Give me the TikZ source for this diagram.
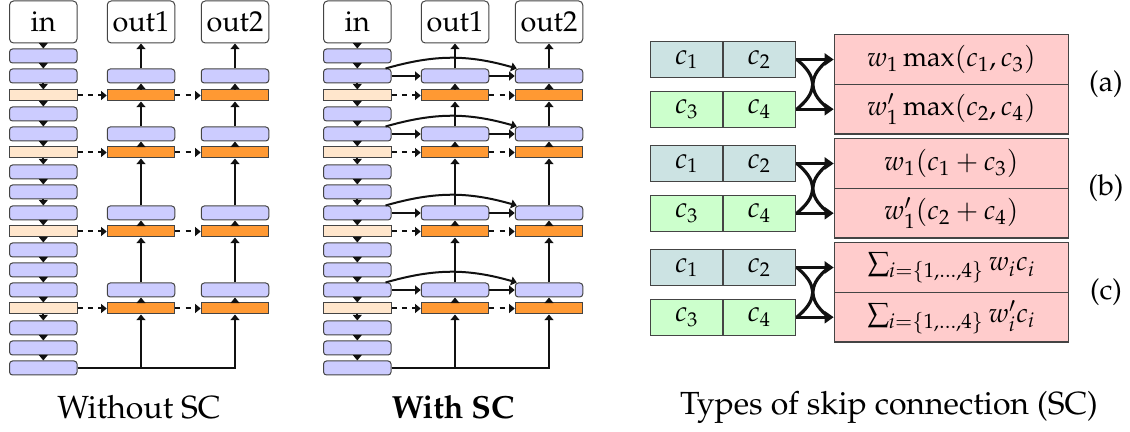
\documentclass[tikz,border=0pt]{standalone}
\usepackage{amsmath,amssymb}
\usepackage[T1]{fontenc}
\usepackage{mathpazo}
\usepackage{tikz}
\usetikzlibrary{arrows.meta,calc,positioning}
\definecolor{ink}{HTML}{111111}
\definecolor{edgegray}{HTML}{444444}
\definecolor{layerblue}{HTML}{CCCCFF}
\definecolor{layerpeach}{HTML}{FFE6CC}
\definecolor{headorange}{HTML}{FF9933}
\definecolor{chanteal}{HTML}{CCE3E3}
\definecolor{changreen}{HTML}{CCFFCC}
\definecolor{mixpink}{HTML}{FFCCCC}
\newcommand{\capfont}{\fontsize{16}{19}\selectfont}
\newcommand{\mixfont}{\fontsize{13.6}{16}\selectfont}
\tikzset{
  uparr/.style={-{Triangle[length=2.8pt,width=4.4pt]},line width=1pt,color=ink},
  dasharr/.style={uparr,dash pattern=on 2.6pt off 2.6pt},
  mixarr/.style={-{Triangle[length=4.5pt,width=6pt]},line width=1.6pt,color=ink},
  mixcross/.style={line width=1.6pt,color=ink},
  iobox/.style={draw=edgegray,fill=white,line width=0.5pt,rounded corners=2pt,minimum width=33.75pt,minimum height=21pt,inner sep=0pt,font=\Large},
  bluelayer/.style={draw=edgegray,fill=layerblue,line width=0.5pt,rounded corners=1.5pt,minimum width=33.75pt,minimum height=7pt,inner sep=0pt},
  peachlayer/.style={draw=edgegray,fill=layerpeach,line width=0.5pt,minimum width=33.75pt,minimum height=5.5pt,inner sep=0pt},
  orangelayer/.style={draw=edgegray,fill=headorange,line width=0.5pt,minimum width=33.75pt,minimum height=5.5pt,inner sep=0pt},
  chanbox/.style={draw=edgegray,line width=0.6pt,minimum width=36pt,minimum height=18pt,inner sep=0pt,font=\Large},
  mixbox/.style={draw=edgegray,fill=mixpink,line width=0.6pt,minimum width=117pt,minimum height=24.85pt,inner sep=0pt,font=\mixfont}
}

\begin{document}
\begin{tikzpicture}[x=0.5pt,y=-0.5pt]
  \useasboundingbox (0,0) rectangle (1130,432);
  % two network panels
  \foreach \p/\ox in {wo/0,wi/314} {
    \node[iobox] (\p-in) at (43.3+\ox,22) {in};
    \node[iobox] (\p-out1) at (141+\ox,22) {out1};
    \node[iobox] (\p-out2) at (235+\ox,22) {out2};
    \foreach \i/\y/\sty in {1/56/bluelayer,2/76/bluelayer,3/95.5/peachlayer,4/114/bluelayer,5/134/bluelayer,
        6/152.5/peachlayer,7/172/bluelayer,8/192/bluelayer,9/213/bluelayer,10/231.5/peachlayer,
        11/250/bluelayer,12/270/bluelayer,13/290/bluelayer,14/308.5/peachlayer,15/328/bluelayer,
        16/348/bluelayer,17/368/bluelayer}
      \node[\sty] (\p-e\i) at (43.3+\ox,\y) {};
    \draw[uparr] (\p-in) -- (\p-e1);
    \foreach \i in {1,...,16} {
      \pgfmathtruncatemacro{\j}{\i+1}
      \draw[uparr] (\p-e\i) -- (\p-e\j);
    }
    \foreach \k/\yb/\yo/\lt in {1/76/95.5/3,2/134/152.5/6,3/213/231.5/10,4/290/308.5/14} {
      \node[bluelayer] (\p-m-b\k) at (141+\ox,\yb) {};
      \node[orangelayer] (\p-m-o\k) at (141+\ox,\yo) {};
      \node[bluelayer] (\p-r-b\k) at (235+\ox,\yb) {};
      \node[orangelayer] (\p-r-o\k) at (235+\ox,\yo) {};
      \draw[uparr] (\p-m-o\k) -- (\p-m-b\k);
      \draw[uparr] (\p-r-o\k) -- (\p-r-b\k);
      \draw[dasharr] (\p-e\lt) -- (\p-m-o\k);
      \draw[dasharr] (\p-m-o\k) -- (\p-r-o\k);
    }
    \foreach \k in {2,3,4} {
      \pgfmathtruncatemacro{\h}{\k-1}
      \draw[uparr] (\p-m-b\k) -- (\p-m-o\h);
      \draw[uparr] (\p-r-b\k) -- (\p-r-o\h);
    }
    \draw[uparr] (\p-m-b1) -- (\p-out1);
    \draw[uparr] (\p-r-b1) -- (\p-out2);
    \draw[uparr] (\p-e17.east) -| (\p-m-o4.south);
    \draw[uparr] (\p-e17.east) -| (\p-r-o4.south);
  }
  % skip connections
  \foreach \k/\src in {1/2,2/5,3/9,4/13} {
    \draw[uparr] (wi-e\src) -- (wi-m-b\k);
    \draw[uparr] (wi-m-b\k) -- (wi-r-b\k);
    \draw[uparr] ([xshift=-3pt]wi-e\src.north east) to[out=16,in=164] ([xshift=1pt]wi-r-b\k.north west);
  }
  \node[font=\capfont] (capwo) at (139,407) {Without SC};
  \node[font=\capfont\bfseries] (capwi) at (453,407) {With SC};

  % types of skip connection
  \foreach \g/\ya in {a/59.5,b/163.5,c/267.5} {
    \pgfmathsetmacro{\yc}{\ya+49.7}
    \node[chanbox,fill=chanteal] (\g-c1) at (686.7,\ya) {$c_1$};
    \node[chanbox,fill=chanteal] (\g-c2) at (759.2,\ya) {$c_2$};
    \node[chanbox,fill=changreen] (\g-c3) at (686.7,\yc) {$c_3$};
    \node[chanbox,fill=changreen] (\g-c4) at (759.2,\yc) {$c_4$};
    \node[mixbox] (\g-top) at (951.3,\ya) {};
    \node[mixbox] (\g-bot) at (951.3,\yc) {};
    \node[font=\Large] (\g-lab) at (1106,\ya+24.85) {(\g)};
    \draw[mixcross] ([xshift=0.5pt]\g-c2.east) to[out=-40,in=140,looseness=1.6] ([xshift=-2.5pt]\g-bot.west);
    \draw[mixcross] ([xshift=0.5pt]\g-c4.east) to[out=40,in=220,looseness=1.6] ([xshift=-2.5pt]\g-top.west);
    \draw[mixarr] (\g-c2) -- (\g-top);
    \draw[mixarr] (\g-c4) -- (\g-bot);
  }
  \node[font=\mixfont] at (a-top) {$w_1\max(c_1,c_3)$};
  \node[font=\mixfont] at (a-bot) {$w'_1\max(c_2,c_4)$};
  \node[font=\mixfont] at (b-top) {$w_1(c_1+c_3)$};
  \node[font=\mixfont] at (b-bot) {$w'_1(c_2+c_4)$};
  \node[font=\mixfont] at (c-top) {$\sum_{i=\{1,\dots,4\}} w_ic_i$};
  \node[font=\mixfont] at (c-bot) {$\sum_{i=\{1,\dots,4\}} w'_ic_i$};
  \node[font=\capfont] (captypes) at (889,407) {Types of skip connection (SC)};
\end{tikzpicture}
\end{document}
